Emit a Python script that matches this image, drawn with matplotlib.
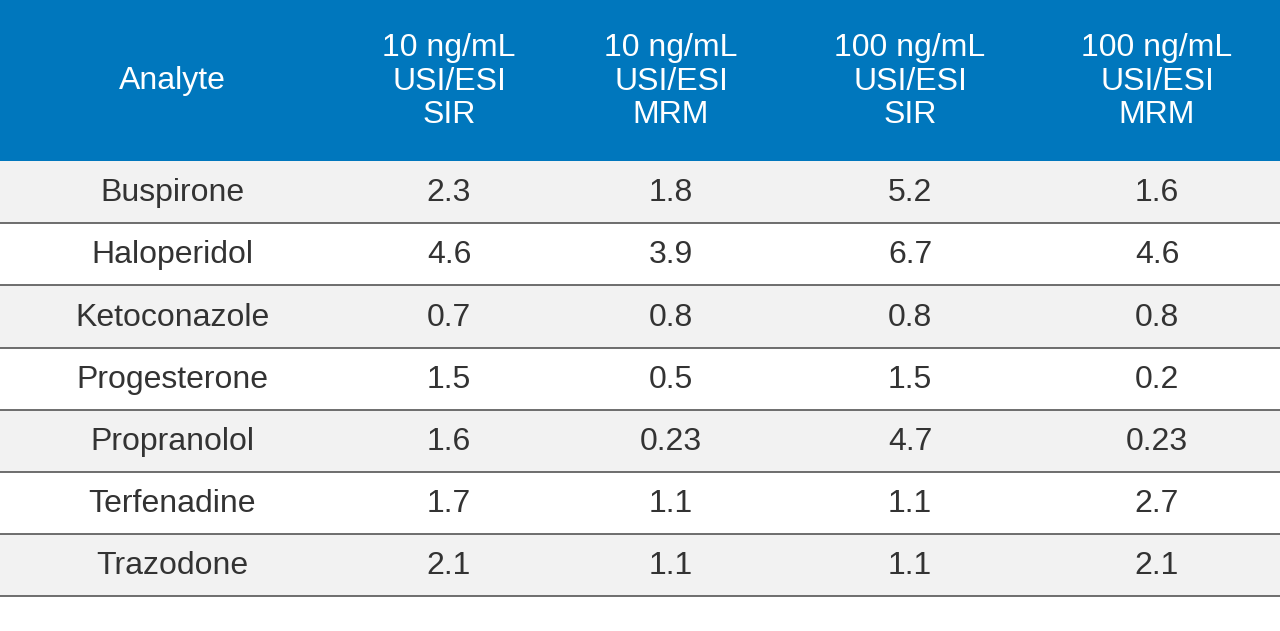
import matplotlib.pyplot as plt
from matplotlib.patches import Rectangle

headers = ["Analyte", "10 ng/mL\nUSI/ESI\nSIR", "10 ng/mL\nUSI/ESI\nMRM",
           "100 ng/mL\nUSI/ESI\nSIR", "100 ng/mL\nUSI/ESI\nMRM"]
analytes = ["Buspirone", "Haloperidol", "Ketoconazole", "Progesterone",
            "Propranolol", "Terfenadine", "Trazodone"]
sir_10 = ["2.3", "4.6", "0.7", "1.5", "1.6", "1.7", "2.1"]
mrm_10 = ["1.8", "3.9", "0.8", "0.5", "0.23", "1.1", "1.1"]
sir_100 = ["5.2", "6.7", "0.8", "1.5", "4.7", "1.1", "1.1"]
mrm_100 = ["1.6", "4.6", "0.8", "0.2", "0.23", "2.7", "2.1"]

plt.rcParams["font.family"] = "Liberation Sans"

fig = plt.figure(figsize=(12.8, 6.31), dpi=100)
ax = fig.add_axes([0, 0, 1, 1])
ax.set_xlim(0, 1280)
ax.set_ylim(631, 0)
ax.axis("off")

col_x = [172, 449, 671, 910, 1157]
header_h = 161
row_h = 62.2

# header band
ax.add_patch(Rectangle((0, 0), 1280, header_h, color="#0077bd", lw=0))
for x, h in zip(col_x, headers):
    ax.text(x, header_h / 2 + 1, h, color="white", fontsize=23, ha="center",
            va="center", linespacing=1.15)

columns = [analytes, sir_10, mrm_10, sir_100, mrm_100]
for i in range(len(analytes)):
    top = header_h + i * row_h
    if i % 2 == 0:
        ax.add_patch(Rectangle((0, top), 1280, row_h, color="#f2f2f2", lw=0))
    ax.plot([0, 1280], [top + row_h, top + row_h], color="#555555", lw=1.2)
    for x, col in zip(col_x, columns):
        ax.text(x, top + row_h / 2 + 1, col[i], color="#333333", fontsize=23,
                ha="center", va="center")

fig.savefig("out.png", dpi=100)
